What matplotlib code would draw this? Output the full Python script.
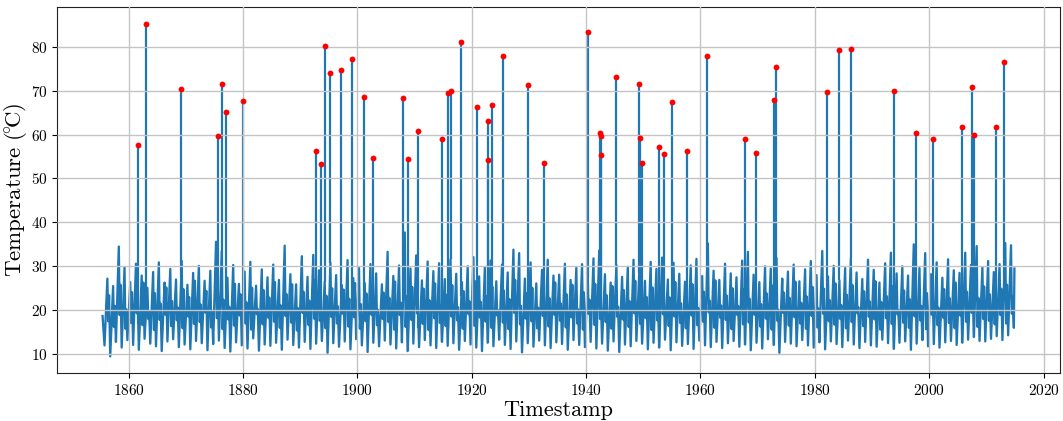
import numpy as np
import matplotlib
matplotlib.use("Agg")
import matplotlib.pyplot as plt
from matplotlib.ticker import MultipleLocator

# ---- seasonal base series ----
start_year = 1855.46
start_value = 18.7
end_year = 2014.9
end_value = 29.5

# winter minima, 1855..2014 (one per year)
trough = [
    12.0, 9.5, 12.8, 11.5, 13.2, 12.1, 11.0, 13.5, 12.4, 11.8,
    10.7, 12.9, 13.4, 11.6, 12.2, 11.1, 13.0, 12.5, 10.9, 12.3,
    13.1, 11.4, 10.6, 12.7, 12.0, 11.3, 13.6, 10.8, 12.2, 11.9,
    12.6, 11.0, 13.3, 12.1, 11.5, 12.8, 11.2, 12.4, 13.0, 10.3,
    12.5, 11.7, 12.9, 11.1, 13.4, 12.0, 10.5, 12.6, 11.8, 13.1,
    12.2, 11.3, 12.7, 10.7, 12.4, 11.6, 13.2, 12.0, 11.4, 12.8,
    11.9, 12.5, 11.0, 13.0, 12.2, 11.5, 10.7, 12.6, 11.8, 13.3,
    12.1, 11.2, 12.9, 10.4, 12.5, 11.7, 13.1, 12.0, 11.4, 12.7,
    12.3, 11.0, 13.2, 12.1, 11.6, 12.8, 11.3, 12.4, 10.8, 12.9,
    10.5, 12.2, 11.8, 13.0, 12.4, 11.1, 12.6, 11.5, 13.3, 10.9,
    12.7, 11.9, 12.3, 11.2, 13.1, 12.0, 11.6, 12.8, 11.4, 12.5,
    13.0, 11.7, 12.2, 10.9, 12.6, 11.3, 13.4, 12.1, 10.3, 12.8,
    12.4, 11.8, 13.2, 12.0, 11.5, 12.7, 11.1, 12.9, 12.3, 11.6,
    13.1, 12.2, 11.4, 12.8, 12.0, 11.7, 13.3, 12.5, 11.2, 12.6,
    12.9, 11.0, 12.4, 13.2, 11.8, 12.3, 11.5, 12.7, 13.0, 12.1,
    12.6, 13.3, 13.9, 13.0, 12.9, 13.5, 14.1, 13.2, 14.3, 16.0,
]

# summer maxima, 1856..2014
peak = [
    27.2, 25.5, 34.5, 29.8, 26.4, 30.6, 27.9, 25.1, 28.7, 30.9,
    26.3, 29.4, 27.0, 31.2, 25.8, 28.5, 30.1, 26.7, 29.0, 35.6,
    33.5, 27.4, 30.3, 26.0, 28.8, 31.0, 25.6, 29.3, 27.5, 30.4,
    26.9, 34.7, 28.2, 25.9, 32.3, 27.6, 32.6, 29.1, 26.5, 30.8,
    28.0, 25.7, 31.4, 27.3, 29.6, 26.2, 30.5, 28.4, 25.9, 33.3,
    27.8, 30.2, 37.7, 29.5, 32.5, 26.8, 31.1, 28.9, 30.7, 27.1,
    31.6, 28.3, 26.4, 30.0, 32.1, 27.7, 29.8, 31.3, 26.6, 30.4,
    28.6, 33.8, 33.0, 27.2, 30.9, 26.1, 29.2, 31.5, 27.9, 28.1,
    30.6, 26.9, 29.7, 30.5, 27.4, 31.8, 33.6, 28.2, 26.3, 30.3,
    27.6, 29.9, 31.5, 28.5, 26.7, 31.0, 29.4, 32.0, 27.0, 30.8,
    28.3, 26.5, 30.2, 31.7, 27.8, 35.2, 29.0, 26.9, 30.6, 28.4,
    27.5, 31.3, 33.3, 28.1, 26.4, 30.0, 29.5, 31.9, 27.2, 28.8,
    30.4, 26.6, 29.3, 31.2, 28.0, 33.5, 27.7, 30.1, 26.8, 29.6,
    31.8, 28.6, 27.1, 31.5, 29.2, 26.3, 30.7, 33.1, 28.4, 30.0,
    27.9, 35.0, 29.6, 33.0, 28.2, 30.9, 27.4, 31.6, 29.1, 28.5,
    33.1, 30.3, 34.6, 29.8, 31.2, 28.7, 30.5, 35.3, 34.8,
]

# late-summer dip after each peak, 1856..2014
dip = [
    17.5, 16.2, 18.9, 15.8, 17.1, 19.3, 16.6, 18.0, 15.5, 17.8,
    19.0, 16.4, 17.7, 15.9, 18.6, 16.9, 17.3, 19.5, 16.1, 18.2,
    15.7, 17.9, 16.5, 18.8, 17.0, 15.6, 19.1, 16.8, 18.3, 17.4,
    16.0, 18.7, 17.2, 15.4, 19.4, 16.7, 18.1, 17.6, 15.9, 18.5,
    17.0, 19.2, 16.3, 18.4, 15.8, 17.5, 19.0, 16.6, 18.0, 17.3,
    15.6, 18.9, 16.2, 17.8, 19.3, 16.9, 15.5, 18.2, 17.1, 16.4,
    18.6, 17.7, 15.8, 19.1, 16.5, 18.3, 17.4, 16.0, 18.8, 17.2,
    15.7, 19.4, 16.8, 18.1, 17.5, 15.9, 18.7, 16.3, 19.0, 17.6,
    16.1, 18.4, 17.0, 15.6, 19.2, 16.7, 18.0, 17.3, 15.8, 18.5,
    17.9, 16.2, 19.3, 16.9, 18.2, 15.5, 17.7, 19.1, 16.4, 18.6,
    17.1, 15.9, 18.8, 16.6, 17.4, 19.5, 16.0, 18.3, 17.8, 15.7,
    18.9, 16.8, 17.2, 19.0, 16.3, 18.1, 15.6, 17.6, 19.4, 16.5,
    18.4, 17.0, 15.8, 18.7, 16.1, 19.2, 17.5, 16.7, 18.0, 15.9,
    17.3, 19.3, 16.4, 18.5, 17.9, 15.6, 18.2, 16.9, 19.1, 17.2,
    16.0, 18.6, 17.7, 15.7, 19.0, 16.6, 18.3, 17.1, 15.9, 18.8,
    17.4, 19.4, 16.2, 18.0, 17.6, 16.8, 18.9, 17.0, 19.2,
]

# autumn rebound before the winter minimum, 1856..2014
rebound = [
    23.4, 21.0, 25.8, 20.2, 24.1, 22.7, 26.3, 19.8, 23.9, 21.5,
    25.2, 22.1, 20.6, 24.8, 23.0, 26.7, 21.3, 24.4, 19.9, 25.5,
    22.4, 20.8, 26.0, 23.6, 21.8, 25.1, 20.3, 24.6, 22.9, 26.4,
    21.1, 23.7, 25.9, 20.5, 24.2, 22.2, 26.8, 21.6, 23.3, 25.0,
    20.9, 24.7, 22.6, 26.2, 21.4, 23.8, 25.6, 20.1, 24.0, 22.8,
    26.5, 21.7, 23.1, 25.3, 20.4, 24.9, 22.3, 26.1, 21.2, 23.5,
    25.7, 20.7, 24.3, 22.0, 26.6, 21.9, 23.2, 25.4, 20.0, 24.5,
    22.5, 26.9, 21.0, 23.9, 25.1, 20.6, 24.8, 22.7, 26.3, 21.5,
    23.6, 25.8, 20.2, 24.1, 22.4, 26.0, 21.8, 23.4, 25.5, 20.8,
    24.6, 22.1, 26.7, 21.3, 23.0, 25.2, 20.3, 24.4, 22.9, 26.4,
    21.6, 23.7, 25.9, 20.5, 24.2, 22.2, 26.8, 21.1, 23.3, 25.0,
    20.9, 24.7, 22.6, 26.2, 21.4, 23.8, 25.6, 20.1, 24.0, 22.8,
    26.5, 21.7, 23.1, 25.3, 20.4, 24.9, 22.3, 26.1, 21.2, 23.5,
    25.7, 20.7, 24.3, 22.0, 26.6, 21.9, 23.2, 25.4, 20.0, 24.5,
    22.5, 26.9, 21.0, 23.9, 25.1, 20.6, 24.8, 22.7, 26.3, 21.5,
    24.2, 26.0, 22.8, 25.4, 23.6, 26.5, 24.9, 25.8, 23.1,
]

# ---- flagged anomalies (red points) ----
anom_year = [
    1861.7, 1863.1, 1869.2, 1875.6, 1876.4, 1877.1, 1880.0, 1892.7, 1893.7, 1894.3,
    1895.3, 1897.1, 1899.1, 1901.1, 1902.7, 1908.0, 1908.8, 1910.7, 1914.8, 1915.9,
    1916.3, 1918.2, 1921.0, 1922.8, 1922.9, 1923.5, 1925.4, 1929.9, 1932.6, 1940.3,
    1942.45, 1942.55, 1942.6, 1945.3, 1949.3, 1949.5, 1949.7, 1952.8, 1953.7, 1955.0,
    1957.6, 1961.1, 1967.8, 1969.7, 1972.8, 1973.2, 1982.1, 1984.3, 1986.3, 1993.8,
    1997.7, 2000.7, 2005.8, 2007.4, 2007.8, 2011.6, 2013.0,
]
anom_temp = [
    57.5, 85.2, 70.4, 59.6, 71.5, 65.1, 67.7, 56.2, 53.3, 80.1,
    73.9, 74.6, 77.2, 68.5, 54.6, 68.2, 54.5, 60.8, 59.0, 69.5,
    70.0, 81.1, 66.3, 54.2, 63.0, 66.8, 77.9, 71.3, 53.6, 83.3,
    60.3, 59.7, 55.4, 73.2, 71.5, 59.3, 53.6, 57.2, 55.6, 67.4,
    56.3, 77.8, 59.0, 55.9, 67.9, 75.4, 69.7, 79.2, 79.4, 70.0,
    60.3, 59.0, 61.8, 70.9, 59.9, 61.8, 76.5,
]

# assemble base line: trough Y+0.8, peak Y+1.3, dip Y+1.45, rebound Y+1.6
tr_t = 1855.8 + np.arange(len(trough))
pk_t = 1856.3 + np.arange(len(peak))
t = np.concatenate([[start_year], tr_t, pk_t, pk_t + 0.15, pk_t + 0.3, [end_year]])
v = np.concatenate([[start_value], trough, peak, dip, rebound, [end_value]])
order = np.argsort(t, kind="stable")
t, v = t[order], v[order]

plt.rcParams["font.family"] = "serif"
plt.rcParams["font.serif"] = ["cmr10", "DejaVu Serif"]
plt.rcParams["mathtext.fontset"] = "cm"
plt.rcParams["axes.formatter.use_mathtext"] = True

fig, ax = plt.subplots(figsize=(10.63, 4.21), dpi=100)
fig.subplots_adjust(left=0.0536, right=0.9972, top=0.983, bottom=0.114)

blue = "#1f77b4"
ax.plot(t, v, color=blue, lw=1.65, zorder=2)
# spikes rise straight out of the series
foot = np.interp(anom_year, t, v)
ax.vlines(anom_year, foot, anom_temp, color=blue, lw=1.6, zorder=2)
ax.plot(anom_year, anom_temp, "o", color="red", ms=4.2, mew=0, zorder=4)

ax.set_axisbelow(False)
ax.grid(True, color="#c4c4c4", lw=1.0, zorder=2.5)
ax.xaxis.set_major_locator(MultipleLocator(20))
ax.yaxis.set_major_locator(MultipleLocator(10))
ax.tick_params(labelsize=11)
ax.set_xlabel("Timestamp", fontsize=16, labelpad=2)
ax.set_ylabel(r"$\mathrm{Temperature\ (\!{}^{\circ}\!C)}$", fontsize=16.5, labelpad=1)
for s in ax.spines.values():
    s.set_color("#222222")

fig.savefig("out.png", dpi=100)
